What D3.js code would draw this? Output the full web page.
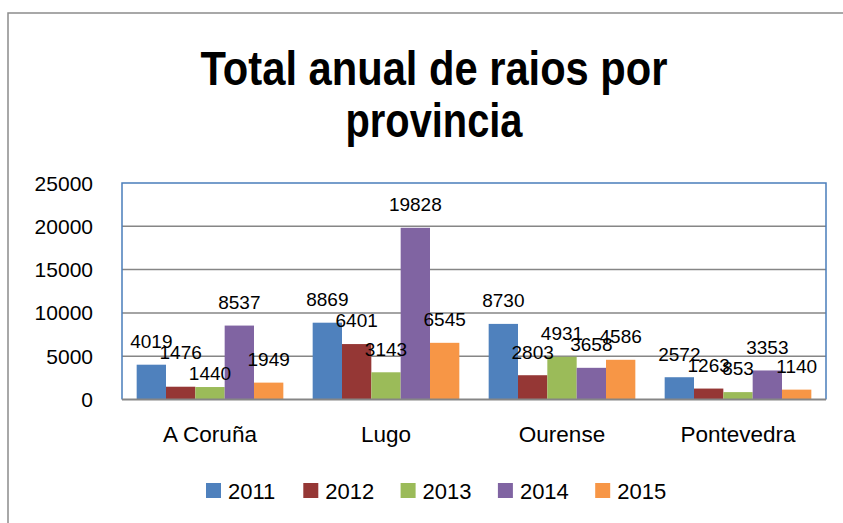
<!DOCTYPE html>
<html>
<head>
<meta charset="utf-8">
<script src="https://cdnjs.cloudflare.com/ajax/libs/d3/7.8.5/d3.min.js"></script>
<style>
  body { margin: 0; background: #fff; }
  text { font-family: "Liberation Sans", Arial, sans-serif; fill: #000; }
</style>
</head>
<body>
<div id="chart"></div>
<script>
// data
let provincias = ["A Coruña", "Lugo", "Ourense", "Pontevedra"];
let anos = ["2011", "2012", "2013", "2014", "2015"];
let raios2011 = [4019, 8869, 8730, 2572];
let raios2012 = [1476, 6401, 2803, 1263];
let raios2013 = [1440, 3143, 4931, 853];
let raios2014 = [8537, 19828, 3658, 3353];
let raios2015 = [1949, 6545, 4586, 1140];
let yTicks = [0, 5000, 10000, 15000, 20000, 25000];

let colores = ["#4f81bd", "#953735", "#9bbb59", "#8064a2", "#f79646"];

let series = [raios2011, raios2012, raios2013, raios2014, raios2015];
let rows = [];
provincias.forEach(function(p, i) {
    anos.forEach(function(a, j) {
        rows.push({prov: p, ano: a, valor: series[j][i]});
    });
});

let W = 843, H = 523;
let pLeft = 122, pRight = 826, pTop = 183, pBottom = 399.5;

let svg = d3.select("#chart")
            .append("svg")
            .attr("width", W)
            .attr("height", H);

// outer chart border (runs off the right/bottom edge)
svg.append("rect")
   .attr("x", 8).attr("y", 13)
   .attr("width", 900).attr("height", 600)
   .attr("fill", "none")
   .attr("stroke", "#8c8c8c")
   .attr("stroke-width", 1.5);

// title
let title = svg.append("g").attr("font-weight", "bold").attr("font-size", 49);
title.append("text")
     .attr("x", 434).attr("y", 85)
     .attr("text-anchor", "middle")
     .attr("textLength", 467).attr("lengthAdjust", "spacingAndGlyphs")
     .text("Total anual de raios por");
title.append("text")
     .attr("x", 434).attr("y", 137)
     .attr("text-anchor", "middle")
     .attr("textLength", 177).attr("lengthAdjust", "spacingAndGlyphs")
     .text("provincia");

let x0 = d3.scaleBand().domain(provincias).range([pLeft, pRight]).padding(0);
let x1 = d3.scaleBand().domain(anos).range([0, x0.bandwidth()]).paddingInner(0).paddingOuter(0.5);
let y = d3.scaleLinear().domain([0, 25000]).range([pBottom, pTop]);

// gridlines
svg.append("g")
   .selectAll("line")
   .data(yTicks.filter(d => d > 0 && d < 25000))
   .enter()
   .append("line")
   .attr("x1", pLeft).attr("x2", pRight)
   .attr("y1", d => y(d)).attr("y2", d => y(d))
   .attr("stroke", "#868686")
   .attr("stroke-width", 1.5);

// y tick labels
svg.append("g")
   .selectAll("text")
   .data(yTicks)
   .enter()
   .append("text")
   .attr("x", 93)
   .attr("y", d => y(d))
   .attr("dy", "0.36em")
   .attr("text-anchor", "end")
   .attr("font-size", 21)
   .text(d => d);

// bars
svg.append("g")
   .selectAll("rect")
   .data(rows)
   .enter()
   .append("rect")
   .attr("x", d => x0(d.prov) + x1(d.ano))
   .attr("y", d => y(d.valor))
   .attr("width", x1.bandwidth())
   .attr("height", d => y(0) - y(d.valor))
   .attr("fill", d => colores[anos.indexOf(d.ano)]);

// plot frame: blue on three sides, grey axis at the bottom
svg.append("path")
   .attr("d", "M" + pLeft + "," + pBottom + "V" + pTop + "H" + pRight + "V" + pBottom)
   .attr("fill", "none")
   .attr("stroke", "#4a7ebb")
   .attr("stroke-width", 1.5);
svg.append("line")
   .attr("x1", pLeft).attr("x2", pRight)
   .attr("y1", pBottom).attr("y2", pBottom)
   .attr("stroke", "#868686")
   .attr("stroke-width", 2);

// data labels (two were dragged in the original)
let nudge = {"A Coruña|2012": -11, "A Coruña|2013": 10};
svg.append("g")
   .selectAll("text")
   .data(rows)
   .enter()
   .append("text")
   .attr("x", d => x0(d.prov) + x1(d.ano) + x1.bandwidth() / 2)
   .attr("y", d => y(d.valor) - 23.5 + (nudge[d.prov + "|" + d.ano] || 0))
   .attr("dy", "0.36em")
   .attr("text-anchor", "middle")
   .attr("font-size", 19)
   .text(d => d.valor);

// category labels
svg.append("g")
   .selectAll("text")
   .data(provincias)
   .enter()
   .append("text")
   .attr("x", d => x0(d) + x0.bandwidth() / 2)
   .attr("y", 442)
   .attr("text-anchor", "middle")
   .attr("font-size", 22.5)
   .text(d => d);

// legend
let legend = svg.append("g")
                .selectAll("g")
                .data(anos)
                .enter()
                .append("g")
                .attr("transform", (d, i) => "translate(" + (206 + i * 97.3) + ",483)");
legend.append("rect")
      .attr("width", 15).attr("height", 15)
      .attr("fill", (d, i) => colores[i]);
legend.append("text")
      .attr("x", 22).attr("y", 16)
      .attr("font-size", 22)
      .text(d => d);
</script>
</body>
</html>
